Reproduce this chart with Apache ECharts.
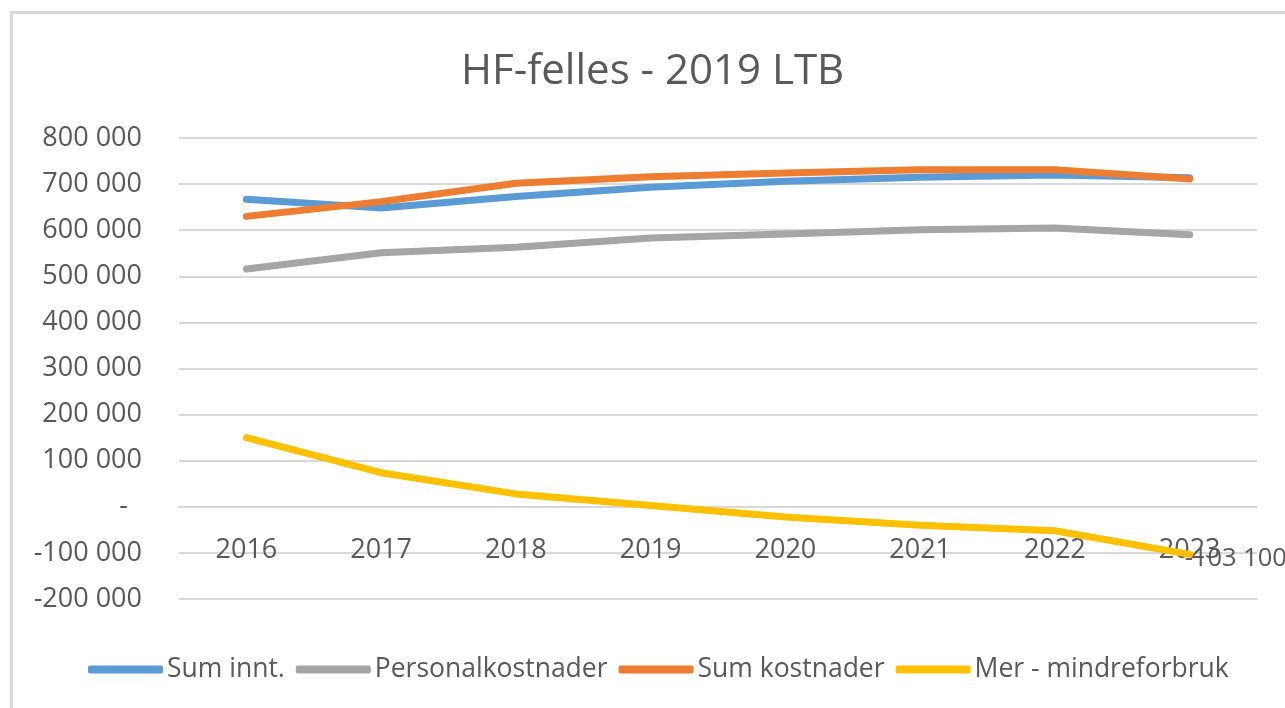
<!DOCTYPE html>
<html>
<head>
<meta charset="utf-8">
<script src="https://cdn.jsdelivr.net/npm/echarts@6/dist/echarts.min.js"></script>
<style>html,body{margin:0;padding:0;background:#fff}#c{width:1285px;height:708px}</style>
</head>
<body>
<div id="c"></div>
<script>
const categories = ['2016','2017','2018','2019','2020','2021','2022','2023'];
const sumInnt = [667000, 648000, 673000, 693000, 706000, 715000, 720000, 714000];
const personalkostnader = [516000, 551000, 563000, 583000, 592000, 601000, 605000, 590000];
const sumKostnader = [630000, 662000, 702000, 716000, 724000, 731000, 731000, 711000];
const merMindreforbruk = [150000, 74000, 28000, 3000, -22000, -40000, -52000, -103100];
const seriesNames = ['Sum innt.', 'Personalkostnader', 'Sum kostnader', 'Mer - mindreforbruk'];

const FONT = '"Open Sans", sans-serif';
const TXT = '#595959';
function fmt(v) {
  if (v === 0) return '-\u00a0\u00a0';
  const s = Math.abs(v).toString().replace(/\B(?=(\d{3})+(?!\d))/g, ' ');
  return (v < 0 ? '-' : '') + s;
}
function line(name, data, color, withSymbol) {
  return {
    name, type: 'line', data,
    showSymbol: !!withSymbol, symbol: 'circle', symbolSize: withSymbol ? 2 : 0,
    lineStyle: { color, width: 7, cap: 'round', join: 'round' },
    itemStyle: { color }, emphasis: { disabled: true }
  };
}
const lastIdx = merMindreforbruk.length - 1;
const merData = merMindreforbruk.map((v, i) => i === lastIdx ? {
  value: v,
  label: { show: true, position: 'right', distance: 0, offset: [-6, 4], formatter: p => fmt(p.value),
    color: TXT, fontSize: 25.5, fontFamily: FONT }
} : v);

const chart = echarts.init(document.getElementById('c'));
chart.setOption({
  backgroundColor: '#fff',
  animation: false,
  graphic: [{ type: 'rect', shape: { x: 11.5, y: 12.5, width: 1400, height: 800 },
    style: { fill: 'none', stroke: '#D9D9D9', lineWidth: 3 }, z: -1 }],
  title: { text: 'HF-felles - 2019 LTB', left: 456, top: 46,
    textStyle: { color: TXT, fontSize: 42, fontWeight: 'normal', fontFamily: FONT } },
  legend: {
    data: seriesNames, left: 83, top: 651, itemWidth: 75, itemHeight: 8, itemGap: 11,
    icon: 'roundRect',
    textStyle: { color: TXT, fontSize: 26.5, fontFamily: FONT, padding: [0, 0, 0, -1] }
  },
  grid: { left: 179, right: 28, top: 138, bottom: 109, containLabel: false },
  xAxis: {
    type: 'category', data: categories, boundaryGap: true, position: 'bottom', offset: -92,
    axisLine: { onZero: false, lineStyle: { color: '#D9D9D9', width: 2 } },
    axisTick: { show: false },
    axisLabel: { margin: 30, color: TXT, fontSize: 27, fontFamily: FONT }
  },
  yAxis: {
    type: 'value', min: -200000, max: 800000, interval: 100000,
    axisLine: { show: false }, axisTick: { show: false },
    splitLine: { lineStyle: { color: '#D9D9D9', width: 2 } },
    axisLabel: { margin: 37, color: TXT, fontSize: 27, fontFamily: FONT, formatter: fmt }
  },
  series: [
    line(seriesNames[0], sumInnt, '#5B9BD5'),
    line(seriesNames[1], personalkostnader, '#A5A5A5'),
    line(seriesNames[2], sumKostnader, '#ED7D31'),
    line(seriesNames[3], merData, '#FFC000', true)
  ]
});
</script>
</body>
</html>
